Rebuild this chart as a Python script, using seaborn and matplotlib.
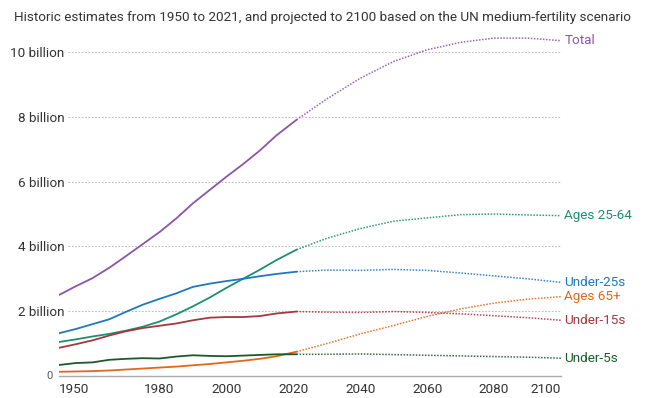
import numpy as np
import pandas as pd
import matplotlib
matplotlib.use("Agg")
import matplotlib.pyplot as plt
import seaborn as sns

# historic (solid) and projected (dotted) years
years_hist = [1950, 1955, 1960, 1965, 1970, 1975, 1980, 1985, 1990, 1995, 2000, 2005, 2010, 2015, 2021]
years_proj = [2021, 2030, 2040, 2050, 2060, 2070, 2080, 2090, 2100]

# values in billions
total_hist = [2.50, 2.77, 3.02, 3.34, 3.70, 4.07, 4.44, 4.86, 5.33, 5.74, 6.15, 6.54, 6.96, 7.43, 7.91]
total_proj = [7.91, 8.55, 9.19, 9.71, 10.07, 10.30, 10.43, 10.43, 10.35]

a2564_hist = [1.05, 1.13, 1.22, 1.30, 1.40, 1.52, 1.68, 1.90, 2.15, 2.42, 2.72, 3.00, 3.28, 3.58, 3.90]
a2564_proj = [3.90, 4.25, 4.55, 4.78, 4.88, 4.98, 5.00, 4.97, 4.95]

u25_hist = [1.32, 1.45, 1.60, 1.75, 1.98, 2.20, 2.38, 2.55, 2.75, 2.85, 2.93, 3.00, 3.08, 3.15, 3.22]
u25_proj = [3.22, 3.27, 3.26, 3.29, 3.26, 3.18, 3.09, 3.00, 2.89]

a65_hist = [0.13, 0.14, 0.15, 0.17, 0.20, 0.23, 0.26, 0.29, 0.33, 0.37, 0.42, 0.47, 0.53, 0.61, 0.75]
a65_proj = [0.75, 1.00, 1.30, 1.56, 1.84, 2.07, 2.25, 2.37, 2.45]

u15_hist = [0.87, 0.98, 1.10, 1.25, 1.38, 1.48, 1.55, 1.62, 1.72, 1.80, 1.82, 1.82, 1.85, 1.93, 1.99]
u15_proj = [1.99, 1.97, 1.96, 1.99, 1.96, 1.92, 1.86, 1.80, 1.72]

u5_hist = [0.34, 0.40, 0.42, 0.50, 0.53, 0.55, 0.54, 0.60, 0.64, 0.62, 0.61, 0.63, 0.65, 0.67, 0.67]
u5_proj = [0.67, 0.67, 0.68, 0.66, 0.64, 0.62, 0.60, 0.58, 0.55]

series_names = ["Total", "Ages 25-64", "Under-25s", "Ages 65+", "Under-15s", "Under-5s"]
series_hist = [total_hist, a2564_hist, u25_hist, a65_hist, u15_hist, u5_hist]
series_proj = [total_proj, a2564_proj, u25_proj, a65_proj, u15_proj, u5_proj]
series_colors = ["#8C55A8", "#1D8F6E", "#1F78C1", "#E4661B", "#A8363F", "#1C5A28"]

y_ticks = [2, 4, 6, 8, 10]
y_labels = ["2 billion", "4 billion", "6 billion", "8 billion", "10 billion"]
x_ticks = [1950, 1980, 2000, 2020, 2040, 2060, 2080, 2100]

sns.set_theme(style="white")
plt.rcParams['font.family'] = ['Roboto', 'DejaVu Sans']

fig = plt.figure(figsize=(6.72, 3.98), dpi=100)
ax = fig.add_axes([59 / 672, 1 - 376 / 398, 502 / 672, (376 - 32.6) / 398])
ax.set_xlim(1950, 2100)
ax.set_ylim(0, 10.6)

# dotted gridlines (start just right of the labels)
ax.hlines(y_ticks, 1952.8, 2100, colors="#bdbdbd", linestyles=(0, (1.5, 1.5)), linewidth=0.8, zorder=0)

for name, hist, proj, col in zip(series_names, series_hist, series_proj, series_colors):
    sns.lineplot(x=years_hist, y=hist, ax=ax, color=col, linewidth=1.3)
    sns.lineplot(x=years_proj, y=proj, ax=ax, color=col, linewidth=1.1, linestyle=(0, (1, 1)), alpha=0.9)
    ax.text(2101, proj[-1], name, color=col, fontsize=9.7, ha="left", va="center", clip_on=False)

ax.set_yticks(y_ticks)
ax.set_yticklabels(y_labels)
ax.tick_params(axis="y", length=0, pad=-4, labelsize=9.7, labelcolor="#333333")
for lab in ax.get_yticklabels():
    lab.set_horizontalalignment("right")
ax.text(-0.013, 0, "0", transform=ax.get_yaxis_transform(), ha="right", va="center",
        fontsize=8, color="#555555")

ax.set_xticks(x_ticks)
ax.set_xticklabels([str(t) for t in x_ticks])
ax.tick_params(axis="x", direction="in", length=3.5, width=0.8, color="#aaaaaa", pad=5,
               labelsize=9.7, labelcolor="#333333")
xlabs = ax.get_xticklabels()
xlabs[0].set_horizontalalignment("left")
xlabs[-1].set_horizontalalignment("right")

for s in ["top", "right", "left"]:
    ax.spines[s].set_visible(False)
ax.spines["bottom"].set_color("#aaaaaa")
ax.spines["bottom"].set_linewidth(1.0)
ax.set_xlabel("")
ax.set_ylabel("")

fig.text(14 / 672, 1 - 17 / 398,
         "Historic estimates from 1950 to 2021, and projected to 2100 based on the UN medium-fertility scenario",
         ha="left", va="center", fontsize=9.7, color="#333333")

fig.savefig("out.png", dpi=100)
